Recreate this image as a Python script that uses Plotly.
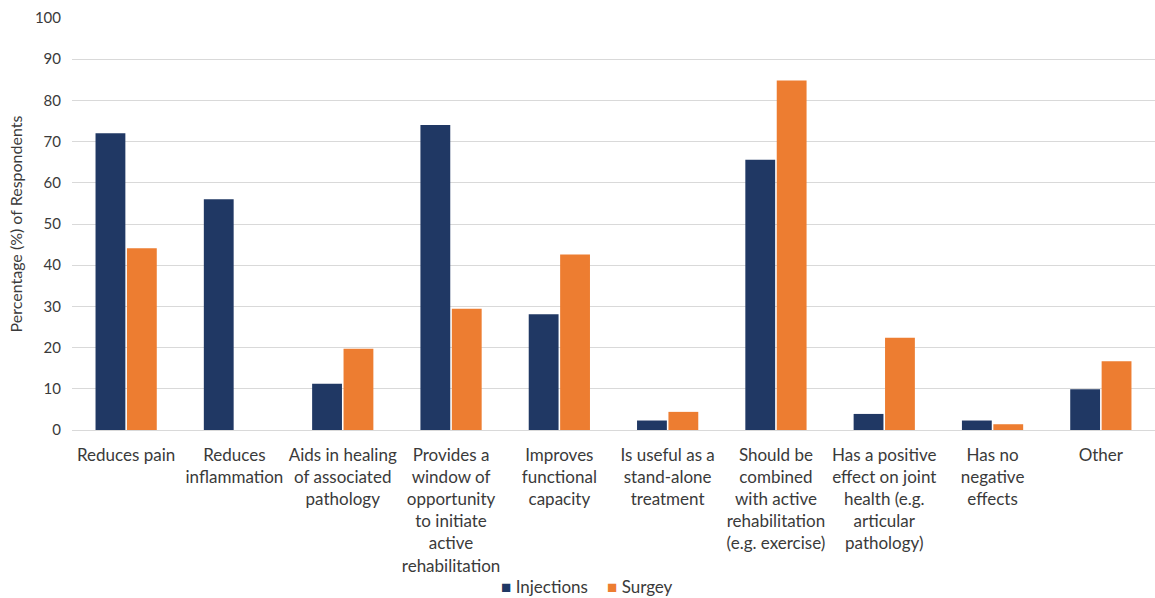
import plotly.graph_objects as go

categories = [
    "Reduces pain",
    "Reduces<br>inflammation",
    "Aids in healing<br>of associated<br>pathology",
    "Provides a<br>window of<br>opportunity<br>to initiate<br>active<br>rehabilitation",
    "Improves<br>functional<br>capacity",
    "Is useful as a<br>stand-alone<br>treatment",
    "Should be<br>combined<br>with active<br>rehabilitation<br>(e.g. exercise)",
    "Has a positive<br>effect on joint<br>health (e.g.<br>articular<br>pathology)",
    "Has no<br>negative<br>effects",
    "Other",
]
injections = [72.0, 56.0, 11.2, 74.0, 28.1, 2.3, 65.6, 3.9, 2.3, 9.9]
surgery = [44.1, 0, 19.7, 29.4, 42.6, 4.4, 84.8, 22.4, 1.4, 16.7]
y_ticks = [0, 10, 20, 30, 40, 50, 60, 70, 80, 90, 100]
series_names = ["Injections", "Surgey"]
series_colors = ["#203864", "#ED7D31"]

fig = go.Figure()
fig.add_trace(go.Bar(name=series_names[0], x=categories, y=injections,
                     marker=dict(color=series_colors[0], line=dict(width=0))))
fig.add_trace(go.Bar(name=series_names[1], x=categories, y=surgery,
                     marker=dict(color=series_colors[1], line=dict(width=0))))

# legend drawn as annotations (a plotly legend below the plot would shrink the plot area)
legend_x = [0.394, 0.492]
for name, col, lx in zip(series_names, series_colors, legend_x):
    fig.add_annotation(
        xref="paper", yref="paper", x=lx, y=-0.381, xanchor="left", yanchor="middle",
        showarrow=False,
        text=f'<span style="color:{col};font-size:17px">■</span> {name}',
        font=dict(size=17, color="#3a3a3a", family="Lato"),
    )

fig.update_layout(
    width=1155, height=598,
    margin=dict(l=72, r=0, t=18, b=168),
    paper_bgcolor="white", plot_bgcolor="white",
    font=dict(family="Lato", color="#3a3a3a", size=17),
    barmode="group", bargap=0.42, bargroupgap=0.05,
    showlegend=False,
    xaxis=dict(showgrid=False, showline=False, ticks="", tickfont=dict(size=17), tickangle=0,
               ticklabelstandoff=13, automargin=False),
    yaxis=dict(range=[0, 100], tickvals=y_ticks, showgrid=True, gridcolor="#d9d9d9", gridwidth=1,
               zeroline=True, zerolinecolor="#d9d9d9", zerolinewidth=1,
               tickfont=dict(size=15, color="#3a3a3a"), ticks="", ticklabelstandoff=10,
               title=dict(text="Percentage (%) of Respondents", font=dict(size=16, color="#3a3a3a"), standoff=8),
               automargin=False),
)
fig.write_html("out.html")
